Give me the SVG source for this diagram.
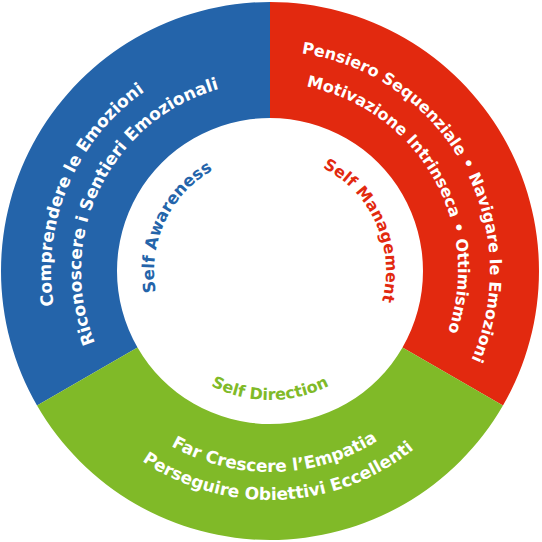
<svg xmlns="http://www.w3.org/2000/svg" xmlns:xlink="http://www.w3.org/1999/xlink" width="542" height="542" viewBox="0 0 542 542">
<style>
text{font-family:"DejaVu Sans","Verdana",sans-serif;font-weight:bold;font-size:16px}
.big{font-size:17px}
.mid{font-size:16.6px}
.w{fill:#ffffff}
.cb{fill:#2464aa}
.cr{fill:#e2290f}
.cg{fill:#80ba28}
</style>
<defs>
<path id="pB1" d="M220.73,484.39 A219,219 0 1 1 389.28,87.33"/>
<path id="pB2" d="M217.91,452.68 A189,189 0 1 1 381.09,118.10"/>
<path id="pR1" d="M131.55,100.03 A220,220 0 1 1 341.63,479.01"/>
<path id="pR2" d="M149.16,126.98 A188,188 0 1 1 334.30,447.66"/>
<path id="pG1" d="M71.21,241.29 A201,201 0 1 0 466.96,230.93"/>
<path id="pG2" d="M42.96,241.11 A229,229 0 1 0 493.57,221.44"/>
<path id="pSA" d="M239.98,383.05 A116,116 0 1 1 336.54,175.98"/>
<path id="pSM" d="M205.13,174.83 A116,116 0 1 1 298.06,383.55"/>
<path id="pSD" d="M142.96,248.60 A129,129 0 1 0 397.04,248.60"/>
</defs>
<rect width="542" height="542" fill="#ffffff"/>
<g id="self-awareness">
<path class="cb" d="M37.04,405.5 A269,269 0 0 1 270,2 L270,118 A153,153 0 0 0 137.5,347.5 Z"/>
<text class="w big"><textPath href="#pB1" xlink:href="#pB1" startOffset="50%" text-anchor="middle">Comprendere le Emozioni</textPath></text>
<text class="w big"><textPath href="#pB2" xlink:href="#pB2" startOffset="50%" text-anchor="middle">Riconoscere i Sentieri Emozionali</textPath></text>
<text class="cb mid"><textPath href="#pSA" xlink:href="#pSA" startOffset="50%" text-anchor="middle">Self Awareness</textPath></text>
</g>
<g id="self-management">
<path class="cr" d="M270,2 A269,269 0 0 1 502.96,405.5 L402.5,347.5 A153,153 0 0 0 270,118 Z"/>
<text class="w"><textPath href="#pR1" xlink:href="#pR1" startOffset="50%" text-anchor="middle">Pensiero Sequenziale • Navigare le Emozioni</textPath></text>
<text class="w"><textPath href="#pR2" xlink:href="#pR2" startOffset="50%" text-anchor="middle">Motivazione Intrinseca • Ottimismo</textPath></text>
<text class="cr"><textPath href="#pSM" xlink:href="#pSM" startOffset="50%" text-anchor="middle">Self Management</textPath></text>
</g>
<g id="self-direction">
<path class="cg" d="M502.96,405.5 A269,269 0 0 1 37.04,405.5 L137.5,347.5 A153,153 0 0 0 402.5,347.5 Z"/>
<text class="w big"><textPath href="#pG1" xlink:href="#pG1" startOffset="50%" text-anchor="middle">Far Crescere l’Empatia</textPath></text>
<text class="w big"><textPath href="#pG2" xlink:href="#pG2" startOffset="50%" text-anchor="middle">Perseguire Obiettivi Eccellenti</textPath></text>
<text class="cg"><textPath href="#pSD" xlink:href="#pSD" startOffset="50%" text-anchor="middle">Self Direction</textPath></text>
</g>
<g id="connectors"></g>
</svg>
